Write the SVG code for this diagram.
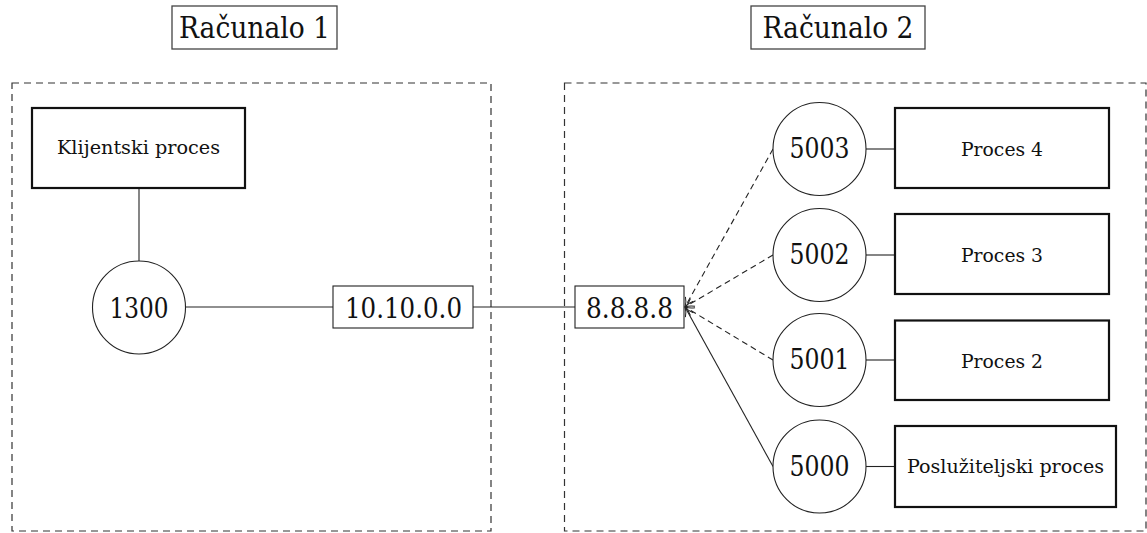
<svg xmlns="http://www.w3.org/2000/svg" width="1147" height="533" viewBox="0 0 1147 533">
<style>
.bg{fill:#fff}
.title{fill:#fff;stroke:#444;stroke-width:1.3}
.area{fill:none;stroke:#333;stroke-width:1.2;stroke-dasharray:7 5}
.proc{fill:#fff;stroke:#111;stroke-width:2.2}
.port{fill:#fff;stroke:#222;stroke-width:1.1}
.ip{fill:#fff;stroke:#222;stroke-width:1.1}
text{font-family:'DejaVu Serif','Liberation Serif',serif;fill:#111;text-anchor:middle}
.big{font-size:29px}
.num{font-size:28px}
.small{font-size:18px}
.ln{fill:none;stroke:#222;stroke-width:1.1}
.dash{stroke-dasharray:6 4}
</style>
<defs>
<marker id="to" viewBox="0 0 12 12" refX="11" refY="6" markerWidth="12" markerHeight="12" markerUnits="userSpaceOnUse" orient="auto">
<path d="M2,1.5 Q6,5 11,6 Q6,7 2,10.5" fill="none" stroke="#222" stroke-width="1"/>
</marker>
</defs>
<rect class="bg" x="0" y="0" width="1147" height="533"/>

<g id="area1"><rect class="area" x="12" y="83" width="479" height="448"/></g>
<g id="area2"><rect class="area" x="564.5" y="83" width="581.5" height="448"/></g>

<g id="title1"><rect class="title" x="172" y="6" width="165" height="43"/><text class="big" x="254.5" y="38" textLength="151" lengthAdjust="spacingAndGlyphs">Računalo 1</text></g>
<g id="title2"><rect class="title" x="751" y="6" width="174" height="43"/><text class="big" x="838" y="38" textLength="151" lengthAdjust="spacingAndGlyphs">Računalo 2</text></g>

<g id="connectors">
<line class="ln" x1="139" y1="188" x2="139" y2="261"/>
<line class="ln" x1="185.5" y1="307" x2="333" y2="307"/>
<line class="ln" x1="473" y1="307" x2="575" y2="307"/>
<line class="ln dash" x1="773" y1="149" x2="685" y2="307" marker-end="url(#to)"/>
<line class="ln dash" x1="773" y1="255" x2="685" y2="307" marker-end="url(#to)"/>
<line class="ln dash" x1="773" y1="360" x2="685" y2="307" marker-end="url(#to)"/>
<line class="ln" x1="773" y1="466.5" x2="685" y2="307" marker-end="url(#to)"/>
<line class="ln" x1="866" y1="149" x2="895" y2="149"/>
<line class="ln" x1="866" y1="255" x2="895" y2="255"/>
<line class="ln" x1="866" y1="360" x2="895" y2="360"/>
<line class="ln" x1="866" y1="466.5" x2="895" y2="466.5"/>
</g>

<g id="klijent"><rect class="proc" x="32" y="108" width="213" height="80"/><text class="small" x="138.5" y="154" textLength="163" lengthAdjust="spacingAndGlyphs">Klijentski proces</text></g>
<g id="p1300"><circle class="port" cx="139" cy="307.5" r="46.5"/><text class="num" x="139" y="318" textLength="59" lengthAdjust="spacingAndGlyphs">1300</text></g>
<g id="ip1"><rect class="ip" x="333" y="286" width="140" height="42"/><text class="num" x="403.5" y="318" textLength="117" lengthAdjust="spacingAndGlyphs">10.10.0.0</text></g>
<g id="ip2"><rect class="ip" x="575" y="286" width="109" height="42"/><text class="num" x="629.5" y="318" textLength="87" lengthAdjust="spacingAndGlyphs">8.8.8.8</text></g>

<g id="p5003"><circle class="port" cx="819.5" cy="149" r="46.5"/><text class="num" x="819.5" y="158" textLength="60" lengthAdjust="spacingAndGlyphs">5003</text></g>
<g id="p5002"><circle class="port" cx="819.5" cy="255" r="46.5"/><text class="num" x="819.5" y="264" textLength="60" lengthAdjust="spacingAndGlyphs">5002</text></g>
<g id="p5001"><circle class="port" cx="819.5" cy="360" r="46.5"/><text class="num" x="819.5" y="369" textLength="60" lengthAdjust="spacingAndGlyphs">5001</text></g>
<g id="p5000"><circle class="port" cx="819.5" cy="466.5" r="46.5"/><text class="num" x="819.5" y="475.5" textLength="60" lengthAdjust="spacingAndGlyphs">5000</text></g>

<g id="proc4"><rect class="proc" x="895" y="108" width="214" height="80"/><text class="small" x="1002" y="156" textLength="82" lengthAdjust="spacingAndGlyphs">Proces 4</text></g>
<g id="proc3"><rect class="proc" x="895" y="214" width="214" height="80"/><text class="small" x="1002" y="262" textLength="82" lengthAdjust="spacingAndGlyphs">Proces 3</text></g>
<g id="proc2"><rect class="proc" x="895" y="320.5" width="214" height="79.5"/><text class="small" x="1002" y="368" textLength="82" lengthAdjust="spacingAndGlyphs">Proces 2</text></g>
<g id="server"><rect class="proc" x="895" y="426" width="221" height="81"/><text class="small" x="1005.5" y="473" textLength="197" lengthAdjust="spacingAndGlyphs">Poslužiteljski proces</text></g>
</svg>
